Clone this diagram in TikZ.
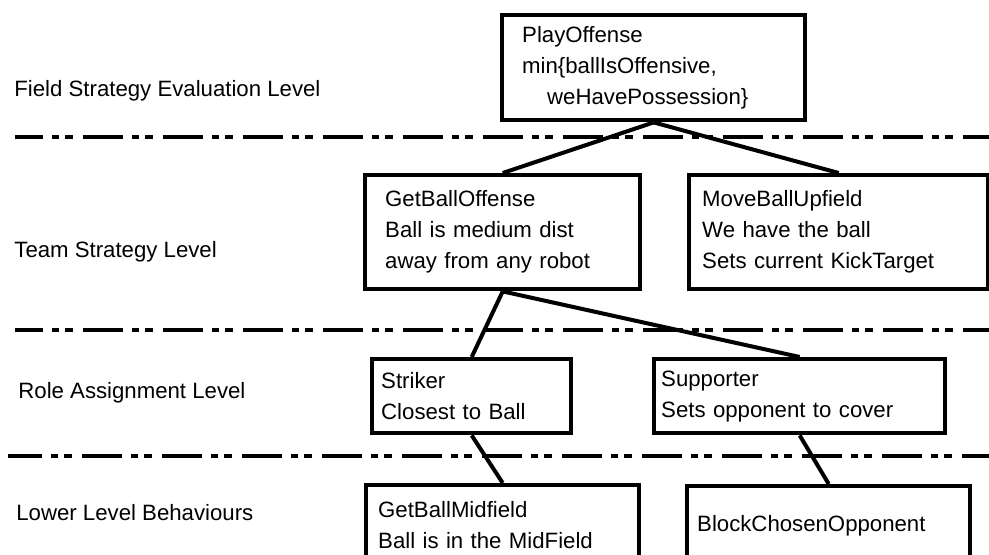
\documentclass[tikz,border=0pt]{standalone}
\usepackage{fontspec}
\setmainfont{Liberation Sans}
\usetikzlibrary{positioning}

\begin{document}
\begin{tikzpicture}[x=0.5pt,y=-0.5pt,
    behaviour/.style={draw=black, line width=2.2pt, rectangle, anchor=north west, align=left, inner ysep=0pt, font=\fontsize{11.1}{15.5}\selectfont},
    level/.style={anchor=base west, inner sep=0pt, font=\fontsize{11.1}{13}\selectfont},
    divider/.style={line width=2pt, dash pattern=on 20pt off 4.5pt on 3.5pt off 3pt on 4pt off 5pt},
    link/.style={line width=2pt}]
\useasboundingbox (0,0) rectangle (989,555);

% level names
\node[level] (fieldlevel) at (14,97) {Field Strategy Evaluation Level};
\node[level] (teamlevel) at (14,258) {Team Strategy Level};
\node[level] (rolelevel) at (18,398) {Role Assignment Level};
\node[level] (lowerlevel) at (16,520) {Lower Level Behaviours};

% level borders
\coordinate (d1a) at (15,137); \coordinate (d1b) at (989,137);
\coordinate (d2a) at (15,330); \coordinate (d2b) at (989,330);
\coordinate (d3a) at (8,456);  \coordinate (d3b) at (989,456);
\draw[divider, dash phase=6pt] (d1a) -- (d1b);
\draw[divider, dash phase=6pt] (d2a) -- (d2b);
\draw[divider, dash phase=3pt] (d3a) -- (d3b);

% behaviours
\node[behaviour, inner xsep=10pt, text width=131.5pt, minimum height=52.5pt] (playoffense) at (500,13)
    {PlayOffense\\min\{ballIsOffensive,\\\hspace*{12.5pt}weHavePossession\}};
\node[behaviour, inner xsep=10pt, text width=117.5pt, minimum height=57pt] (getballoffense) at (363,173)
    {GetBallOffense\\Ball is medium dist\\away from any robot};
\node[behaviour, inner xsep=6.5pt, text width=136.5pt, minimum height=57pt] (moveballupfield) at (687,173)
    {MoveBallUpfield\\We have the ball\\Sets current KickTarget};
\node[behaviour, inner xsep=4.5pt, text width=90.5pt, minimum height=37pt] (striker) at (370,357)
    {Striker\\Closest to Ball};
\node[behaviour, inner xsep=3.5pt, text width=138.5pt, minimum height=37pt] (supporter) at (652,357)
    {Supporter\\Sets opponent to cover};
\node[behaviour, inner xsep=6pt, text width=124.5pt, minimum height=40pt] (getballmidfield) at (364,483)
    {GetBallMidfield\\Ball is in the MidField};
\node[behaviour, inner xsep=5pt, text width=131.5pt, minimum height=40pt] (blockchosenopponent) at (685,484)
    {BlockChosenOpponent};

\draw[link] (playoffense.south) -- (getballoffense.north);
\draw[link] (playoffense.south) -- (moveballupfield.north);
\draw[link] (getballoffense.south) -- (striker.north);
\draw[link] (getballoffense.south) -- (supporter.north);
\draw[link] (striker.south) -- (getballmidfield.north);
\draw[link] (supporter.south) -- (blockchosenopponent.north);
\end{tikzpicture}
\end{document}
